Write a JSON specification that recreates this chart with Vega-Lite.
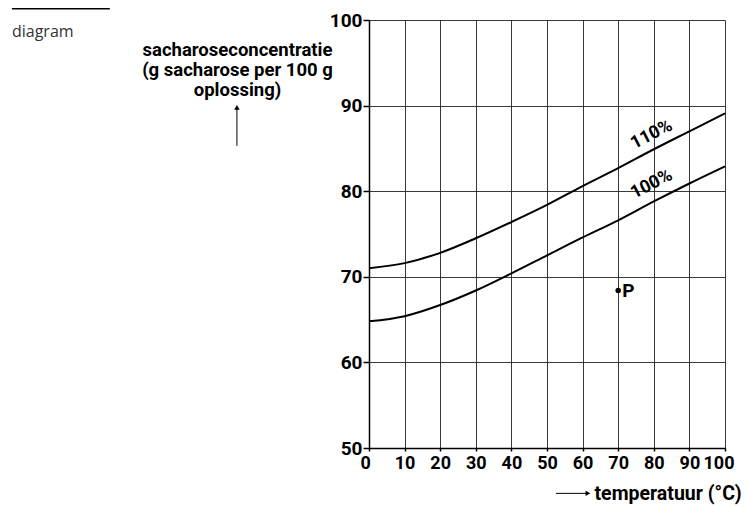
{
  "$schema": "https://vega.github.io/schema/vega-lite/v6.json",
  "width": 356,
  "height": 428,
  "autosize": {"type": "none"},
  "padding": {"left": 369, "top": 20, "right": 19, "bottom": 60},
  "background": "white",
  "config": {
    "view": {"stroke": null},
    "font": "Roboto",
    "axis": {
      "labelFont": "Roboto",
      "labelFontWeight": "bold",
      "labelFontSize": 19,
      "labelColor": "#000",
      "labelOverlap": false,
      "titleFont": "Roboto",
      "titleFontWeight": "bold",
      "titleFontSize": 18.5,
      "titleColor": "#000",
      "domainColor": "#000",
      "domainWidth": 1.5,
      "tickColor": "#000",
      "tickWidth": 1.5,
      "gridColor": "#222",
      "gridWidth": 0.9,
      "gridOpacity": 1
    }
  },
  "datasets": {
    "curves": [
      {"t": 0, "c": 71.0, "series": "110%"},
      {"t": 10, "c": 71.6, "series": "110%"},
      {"t": 20, "c": 72.8, "series": "110%"},
      {"t": 30, "c": 74.5, "series": "110%"},
      {"t": 40, "c": 76.4, "series": "110%"},
      {"t": 50, "c": 78.4, "series": "110%"},
      {"t": 60, "c": 80.6, "series": "110%"},
      {"t": 70, "c": 82.7, "series": "110%"},
      {"t": 80, "c": 84.9, "series": "110%"},
      {"t": 90, "c": 87.0, "series": "110%"},
      {"t": 100, "c": 89.1, "series": "110%"},
      {"t": 0, "c": 64.8, "series": "100%"},
      {"t": 10, "c": 65.4, "series": "100%"},
      {"t": 20, "c": 66.7, "series": "100%"},
      {"t": 30, "c": 68.4, "series": "100%"},
      {"t": 40, "c": 70.4, "series": "100%"},
      {"t": 50, "c": 72.5, "series": "100%"},
      {"t": 60, "c": 74.6, "series": "100%"},
      {"t": 70, "c": 76.6, "series": "100%"},
      {"t": 80, "c": 78.8, "series": "100%"},
      {"t": 90, "c": 80.9, "series": "100%"},
      {"t": 100, "c": 82.9, "series": "100%"}
    ],
    "points": [{"t": 70, "c": 68.4, "label": "P"}],
    "curveLabels": [
      {"t": 79.4, "c": 86.6, "label": "110%"},
      {"t": 79.4, "c": 80.8, "label": "100%"}
    ],
    "arrowLines": [
      {"t": -37.1, "c": 85.3, "t2": -37.1, "c2": 89.6},
      {"t": 52.5, "c": 44.7, "t2": 61.0, "c2": 44.7}
    ],
    "arrowHeadsUp": [{"t": -37.1, "c": 89.8}],
    "arrowHeadsRight": [{"t": 61.5, "c": 44.7}],
    "topRule": [{"t": -100.3, "t2": -72.8, "c": 101.3}],
    "caption": [{"t": -100.3, "c": 98.6, "label": "diagram"}]
  },
  "encoding": {
    "x": {
      "field": "t", "type": "quantitative",
      "scale": {"domain": [0, 100], "nice": false},
      "axis": {
        "values": [0, 10, 20, 30, 40, 50, 60, 70, 80, 90, 100],
        "tickCount": 11,
        "labelOverlap": false,
        "labelFlush": true,
        "labelFlushOffset": 9,
        "labelFontSize": 18,
        "tickSize": 3,
        "labelPadding": 3,
        "title": "temperatuur (°C)",
        "titleAlign": "right",
        "titleX": 372,
        "titleY": 45,
        "titleBaseline": "middle",
        "titleFontSize": 19.5
      }
    },
    "y": {
      "field": "c", "type": "quantitative",
      "scale": {"domain": [50, 100], "nice": false, "zero": false},
      "axis": {
        "values": [50, 60, 70, 80, 90, 100],
        "tickCount": 6,
        "tickSize": 6,
        "labelPadding": 1,
        "title": ["sacharoseconcentratie", "(g sacharose per 100 g", "oplossing)"],
        "titleAngle": 0,
        "titleAlign": "center",
        "titleBaseline": "top",
        "titleX": -132,
        "titleY": 20,
        "titleLineHeight": 20
      }
    }
  },
  "layer": [
    {
      "data": {"name": "curves"},
      "mark": {"type": "line", "interpolate": "monotone", "color": "#000", "strokeWidth": 2},
      "encoding": {
        "detail": {"field": "series", "type": "nominal"}
      }
    },
    {
      "data": {"name": "points"},
      "mark": {"type": "point", "filled": true, "color": "#000", "size": 30, "opacity": 1},
      "encoding": {}
    },
    {
      "data": {"name": "points"},
      "mark": {"type": "text", "align": "left", "baseline": "middle", "dx": 4, "dy": 1, "fontSize": 19, "fontWeight": "bold", "color": "#000"},
      "encoding": {
        "text": {"field": "label"}
      }
    },
    {
      "data": {"name": "curveLabels"},
      "mark": {"type": "text", "align": "center", "baseline": "middle", "angle": -27, "fontSize": 18, "fontWeight": "bold", "color": "#000"},
      "encoding": {
        "text": {"field": "label"}
      }
    },
    {
      "data": {"name": "arrowLines"},
      "mark": {"type": "rule", "color": "#000", "strokeWidth": 1},
      "encoding": {
        "x2": {"field": "t2"},
        "y2": {"field": "c2"}
      }
    },
    {
      "data": {"name": "arrowHeadsUp"},
      "mark": {"type": "point", "shape": "triangle-up", "filled": true, "color": "#000", "size": 30, "opacity": 1},
      "encoding": {}
    },
    {
      "data": {"name": "arrowHeadsRight"},
      "mark": {"type": "point", "shape": "triangle-right", "filled": true, "color": "#000", "size": 30, "opacity": 1},
      "encoding": {}
    },
    {
      "data": {"name": "topRule"},
      "mark": {"type": "rule", "color": "#000", "strokeWidth": 1.5},
      "encoding": {
        "x2": {"field": "t2"}
      }
    },
    {
      "data": {"name": "caption"},
      "mark": {"type": "text", "align": "left", "baseline": "middle", "fontSize": 16, "font": "Open Sans", "color": "#333"},
      "encoding": {
        "text": {"field": "label"}
      }
    }
  ]
}
